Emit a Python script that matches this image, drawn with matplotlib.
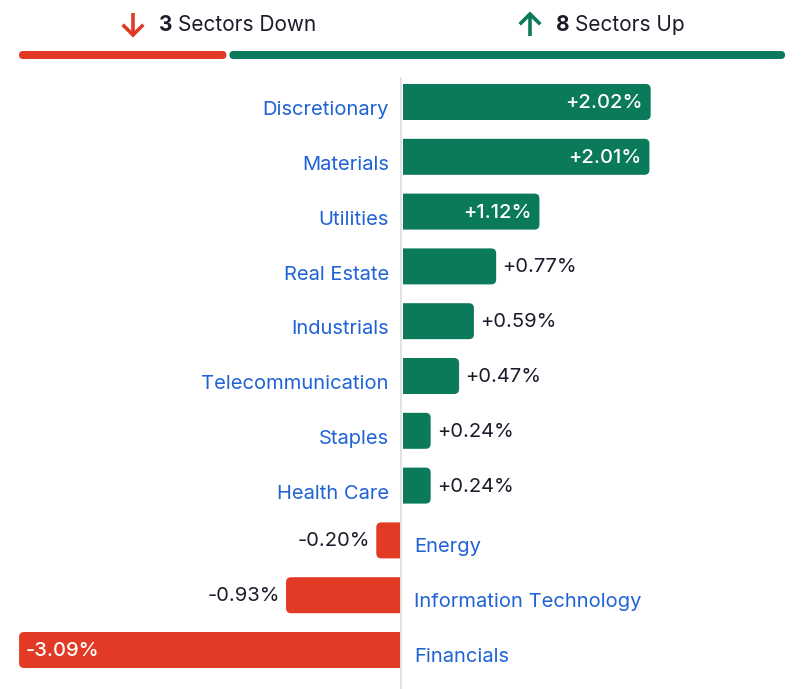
import matplotlib
matplotlib.use("Agg")
import matplotlib.pyplot as plt
from matplotlib.patches import FancyBboxPatch, Rectangle

plt.rcParams['font.family'] = ['Inter', 'DejaVu Sans']

sectors = ["Discretionary", "Materials", "Utilities", "Real Estate", "Industrials",
           "Telecommunication", "Staples", "Health Care", "Energy",
           "Information Technology", "Financials"]
changes = [2.02, 2.01, 1.12, 0.77, 0.59, 0.47, 0.24, 0.24, -0.20, -0.93, -3.09]

GREEN = "#0b7a5a"
RED = "#e33a26"
BLUE = "#1f63d6"
DARK = "#1b1b2a"
FS = 14.5

W, H = 801, 689
fig = plt.figure(figsize=(W / 100, H / 100), dpi=100)

# main chart axes: x in percent, y in row index
ax = fig.add_axes([0, 0, 1, 1])
px_x = 123.6   # pixels per percent
px_y = 54.8    # pixels per row
x0 = 401       # zero line pixel
y0 = 102       # first row centre pixel
ax.set_xlim(-x0 / px_x, (W - x0) / px_x)
ax.set_ylim((H - y0) / px_y, -y0 / px_y)
ax.axis("off")

ax.plot([0, 0], [(78 - y0) / px_y, (H - y0) / px_y], color="#dddddd", lw=1.2, zorder=1)

bh = 36 / px_y
r = 5 / px_x
asp = px_x / px_y
gap = 1.5 / px_x
for i, (name, v) in enumerate(zip(sectors, changes)):
    c = GREEN if v >= 0 else RED
    # rounded bar that runs past the zero line, clipped so the inner end is square
    left = min(0, v) - (0 if v < 0 else 20 / px_x)
    right = max(0, v) + (20 / px_x if v < 0 else 0)
    bar = FancyBboxPatch((left, i - bh / 2), right - left, bh,
                         boxstyle=f"round,pad=0,rounding_size={r}",
                         mutation_aspect=asp, fc=c, ec="none", zorder=2)
    ax.add_patch(bar)
    clip = Rectangle((gap, -5), 10, 30, transform=ax.transData) if v >= 0 else \
        Rectangle((-10, -5), 10 - gap, 30, transform=ax.transData)
    bar.set_clip_path(clip)

    lbl = f"{v:+.2f}%"
    if v >= 0:
        ax.text(-12 / px_x, i + 0.15, name, ha="right", va="center", color=BLUE, fontsize=FS)
        if v > 1:
            ax.text(v - 8 / px_x, i + 0.02, lbl, ha="right", va="center", color="white",
                    fontsize=FS, fontweight="medium")
        else:
            ax.text(v + 6 / px_x, i + 0.02, lbl, ha="left", va="center", color=DARK, fontsize=FS)
    else:
        ax.text(13 / px_x, i + 0.12, name, ha="left", va="center", color=BLUE, fontsize=FS)
        if v < -1:
            ax.text(v + 7 / px_x, i + 0.02, lbl, ha="left", va="center", color="white",
                    fontsize=FS, fontweight="medium")
        else:
            ax.text(v - 6 / px_x, i + 0.02, lbl, ha="right", va="center", color=DARK, fontsize=FS)

# header in pixel coords
hx = fig.add_axes([0, 0, 1, 1], facecolor="none")
hx.set_xlim(0, W)
hx.set_ylim(H, 0)
hx.axis("off")

n_down = sum(1 for v in changes if v < 0)
n_up = sum(1 for v in changes if v >= 0)
bx0, bx1 = 19, 785
split = bx0 + (bx1 - bx0) * n_down / (n_down + n_up)
hx.add_patch(FancyBboxPatch((bx0, 51), split - bx0 - 1.5, 8,
                            boxstyle="round,pad=0,rounding_size=4", fc=RED, ec="none"))
hx.add_patch(FancyBboxPatch((split + 1.5, 51), bx1 - split - 1.5, 8,
                            boxstyle="round,pad=0,rounding_size=4", fc=GREEN, ec="none"))

# arrows drawn as shaft + chevron
hx.plot([133, 133], [13, 35], color=RED, lw=2.6, solid_capstyle="butt")
hx.plot([124, 133, 142], [26, 35, 26], color=RED, lw=2.6, solid_joinstyle="miter")
hx.plot([530, 530], [36, 14], color=GREEN, lw=2.6, solid_capstyle="butt")
hx.plot([521, 530, 539], [23, 14, 23], color=GREEN, lw=2.6, solid_joinstyle="miter")

hx.text(159, 25, str(n_down), ha="left", va="center", color=DARK, fontsize=15, fontweight="bold")
hx.text(178, 25, "Sectors Down", ha="left", va="center", color=DARK, fontsize=15)
hx.text(556, 25, str(n_up), ha="left", va="center", color=DARK, fontsize=15, fontweight="bold")
hx.text(575, 25, "Sectors Up", ha="left", va="center", color=DARK, fontsize=15)

fig.savefig("out.png", dpi=100)
